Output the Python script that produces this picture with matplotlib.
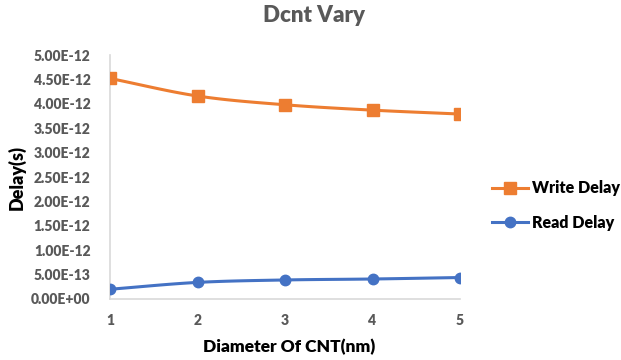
import numpy as np
import matplotlib
matplotlib.use("Agg")
import matplotlib.pyplot as plt
from matplotlib.ticker import FuncFormatter

plt.rcParams['font.family'] = ['Lato', 'DejaVu Sans']

diameter = [1, 2, 3, 4, 5]
write_delay = [4.52e-12, 4.16e-12, 3.98e-12, 3.87e-12, 3.79e-12]
read_delay = [0.20e-12, 0.34e-12, 0.39e-12, 0.41e-12, 0.44e-12]
y_ticks = [i * 0.5e-12 for i in range(11)]

ORANGE = '#ED7D31'
BLUE = '#4472C4'
GRAY = '#595959'
AXIS = '#D9D9D9'
WEIGHT = 800


def smooth(xs, ys, n=30):
    """Catmull-Rom path through the points, like a spreadsheet 'smoothed line'."""
    xs = np.asarray(xs, float)
    ys = np.asarray(ys, float)
    px = np.concatenate([[2 * xs[0] - xs[1]], xs, [2 * xs[-1] - xs[-2]]])
    py = np.concatenate([[2 * ys[0] - ys[1]], ys, [2 * ys[-1] - ys[-2]]])
    ox, oy = [], []
    t = np.linspace(0, 1, n)
    for i in range(1, len(px) - 2):
        for arr, out in ((px, ox), (py, oy)):
            p0, p1, p2, p3 = arr[i - 1], arr[i], arr[i + 1], arr[i + 2]
            seg = 0.5 * ((2 * p1) + (-p0 + p2) * t
                         + (2 * p0 - 5 * p1 + 4 * p2 - p3) * t ** 2
                         + (-p0 + 3 * p1 - 3 * p2 + p3) * t ** 3)
            out.extend(seg if i == 1 else seg[1:])
    return np.array(ox), np.array(oy)


fig = plt.figure(figsize=(6.21, 3.6), dpi=100)
ax = fig.add_axes([110 / 621, 1 - 299 / 360, 350 / 621, 244 / 360])

for ys, color, marker, ms, label in (
        (write_delay, ORANGE, 's', 8.5, 'Write Delay'),
        (read_delay, BLUE, 'o', 7.5, 'Read Delay')):
    sx, sy = smooth(diameter, ys)
    ax.plot(sx, sy, color=color, lw=2.2, solid_capstyle='round', zorder=3)
    ax.plot(diameter, ys, linestyle='none', marker=marker, ms=ms,
            color=color, zorder=4)
    ax.plot([], [], color=color, lw=2.2, marker=marker, ms=ms, label=label)

ax.set_xlim(1, 5)
ax.set_ylim(0, 5e-12)
ax.set_xticks(diameter)
ax.set_yticks(y_ticks)
ax.yaxis.set_major_formatter(FuncFormatter(
    lambda v, p: ('%.2E' % v).replace('E-0', 'E-')))
ax.tick_params(length=0, labelcolor=GRAY, labelsize=10)
ax.tick_params(axis='y', pad=14)
ax.tick_params(axis='x', pad=11)
for lbl in ax.get_xticklabels() + ax.get_yticklabels():
    lbl.set_fontweight(WEIGHT)

for side in ('top', 'right'):
    ax.spines[side].set_visible(False)
for side in ('left', 'bottom'):
    ax.spines[side].set_color(AXIS)
    ax.spines[side].set_linewidth(1.2)

fig.text(314 / 621, 1 - 16 / 360, 'Dcnt Vary', ha='center', va='center',
         fontsize=16, fontweight=WEIGHT, color=GRAY)
fig.text(17 / 621, 1 - 177 / 360, 'Delay(s)', rotation=90, ha='center',
         va='center', fontsize=13, fontweight=WEIGHT, color='black')
fig.text(289 / 621, 1 - 347 / 360, 'Diameter Of CNT(nm)', ha='center',
         va='center', fontsize=12.5, fontweight=WEIGHT, color='black')

handles, labels = ax.get_legend_handles_labels()
leg = fig.legend(handles, labels, loc='center left',
                 bbox_to_anchor=(492 / 621, 1 - 205.5 / 360), frameon=False,
                 borderaxespad=0, borderpad=0,
                 handlelength=2.25, handletextpad=0.25, labelspacing=1.15,
                 prop={'weight': WEIGHT, 'size': 11.5})

fig.savefig('out.png', dpi=100)
